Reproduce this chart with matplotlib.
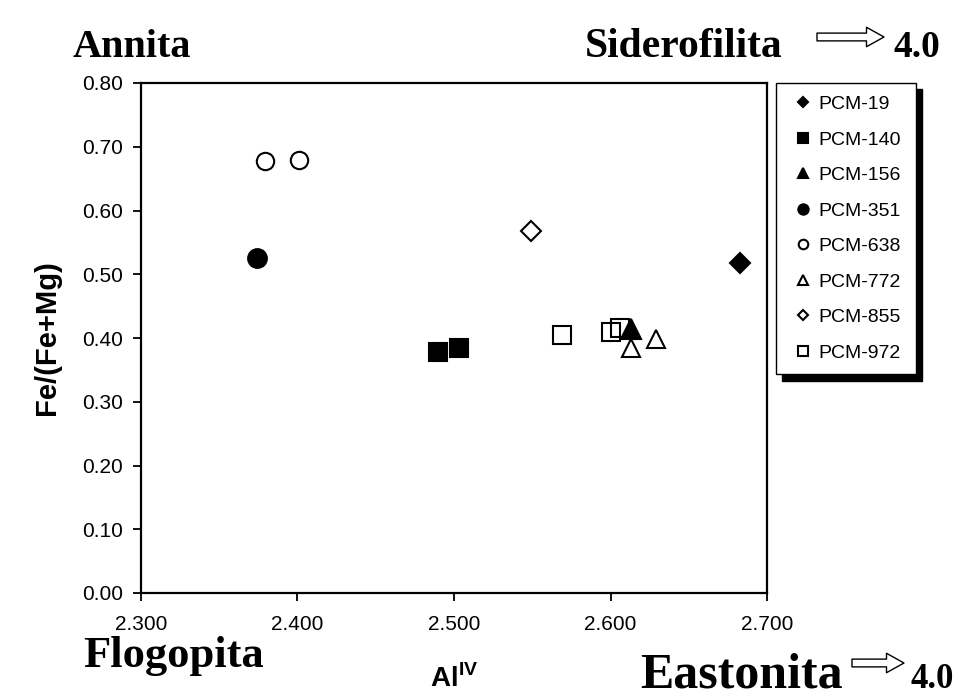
import matplotlib
matplotlib.use('Agg')
import matplotlib.pyplot as plt
from matplotlib.patches import FancyArrowPatch

plt.rcParams['font.family'] = ['Liberation Sans', 'DejaVu Sans']
plt.rcParams['mathtext.fontset'] = 'custom'
plt.rcParams['mathtext.rm'] = 'Liberation Sans'
plt.rcParams['mathtext.bf'] = 'Liberation Sans:bold'

# AlIV and Fe/(Fe+Mg) for each sample
samples = ['PCM-19', 'PCM-140', 'PCM-156', 'PCM-351',
           'PCM-638', 'PCM-772', 'PCM-855', 'PCM-972']
al_iv = [
    [2.683],
    [2.490, 2.503],
    [2.613],
    [2.374],
    [2.379, 2.401],
    [2.613, 2.629],
    [2.549],
    [2.569, 2.600, 2.606],
]
fe_ratio = [
    [0.518],
    [0.378, 0.384],
    [0.414],
    [0.526],
    [0.677, 0.679],
    [0.385, 0.398],
    [0.568],
    [0.404, 0.409, 0.415],
]
markers = ['D', 's', '^', 'o', 'o', '^', 'D', 's']
filled = [True, True, True, True, False, False, False, False]
msizes = [10, 13.5, 14, 13.5, 12.5, 13.5, 10, 13]

x_ticks = [2.3, 2.4, 2.5, 2.6, 2.7]
y_ticks = [0.0, 0.1, 0.2, 0.3, 0.4, 0.5, 0.6, 0.7, 0.8]

fig = plt.figure(figsize=(9.56, 6.99), dpi=100)
ax = fig.add_axes([141 / 956, 1 - 593 / 699, 626 / 956, 510 / 699])

for name, xs, ys, m, f, ms in zip(samples, al_iv, fe_ratio, markers, filled, msizes):
    ax.plot(xs, ys, linestyle='none', marker=m, markersize=ms,
            markerfacecolor='black' if f else 'none', markeredgecolor='black',
            markeredgewidth=1.5, label=name)

ax.set_xlim(2.3, 2.7)
ax.set_ylim(0.0, 0.8)
ax.set_xticks(x_ticks)
ax.set_yticks(y_ticks)
ax.set_xticklabels(['%.3f' % v for v in x_ticks])
ax.set_yticklabels(['%.2f' % v for v in y_ticks])
ax.tick_params(axis='both', direction='out', length=6, width=1.3,
               labelsize=15, colors='black')
ax.tick_params(axis='x', pad=10)
ax.tick_params(axis='y', pad=7)
for sp in ax.spines.values():
    sp.set_linewidth(1.6)

ax.set_ylabel('Fe/(Fe+Mg)', fontsize=21, fontweight='bold')
ax.yaxis.set_label_coords(-0.128, 0.5)
ax.set_xlabel(r'Al$^{\mathbf{IV}}$', fontsize=20, fontweight='bold')
ax.xaxis.set_label_coords(0.5, -0.14)

leg = ax.legend(loc='upper left', bbox_to_anchor=(776 / 956, 1 - 83 / 699, 140 / 956, 0.0),
                bbox_transform=fig.transFigure, mode='expand', borderaxespad=0,
                fontsize=14, markerscale=0.55, handlelength=1.5, handletextpad=0.05,
                labelspacing=0.92, borderpad=0.65, fancybox=False, framealpha=1,
                edgecolor='black',
                shadow={'ox': 4.5, 'oy': -4.5, 'color': 'black', 'alpha': 1})
leg.get_frame().set_linewidth(1.0)

# mineral end-member labels
serif = ['Liberation Serif', 'DejaVu Serif']
fig.text(73 / 956, 1 - 57 / 699, 'Annita', family=serif, fontweight='bold', fontsize=29)
fig.text(585 / 956, 1 - 57 / 699, 'Siderofilita', family=serif, fontweight='bold', fontsize=30)
fig.text(940 / 956, 1 - 57 / 699, '4.0', family=serif, fontweight='bold', fontsize=27, ha='right')
fig.text(83 / 956, 1 - 667 / 699, 'Flogopita', family=serif, fontweight='bold', fontsize=32)
fig.text(640 / 956, 1 - 688 / 699, 'Eastonita', family=serif, fontweight='bold', fontsize=36)
fig.text(954 / 956, 1 - 688 / 699, '4.0', family=serif, fontweight='bold', fontsize=25, ha='right')

for x0, x1, yy in [(817, 884, 37), (852, 904, 663)]:
    arr = FancyArrowPatch((x0 / 956, 1 - yy / 699), (x1 / 956, 1 - yy / 699),
                          transform=fig.transFigure,
                          arrowstyle='simple,head_length=0.9,head_width=1.0,tail_width=0.4',
                          mutation_scale=14, facecolor='white', edgecolor='black',
                          linewidth=1.0, shrinkA=0, shrinkB=0)
    fig.add_artist(arr)

fig.savefig('out.png', dpi=100)
